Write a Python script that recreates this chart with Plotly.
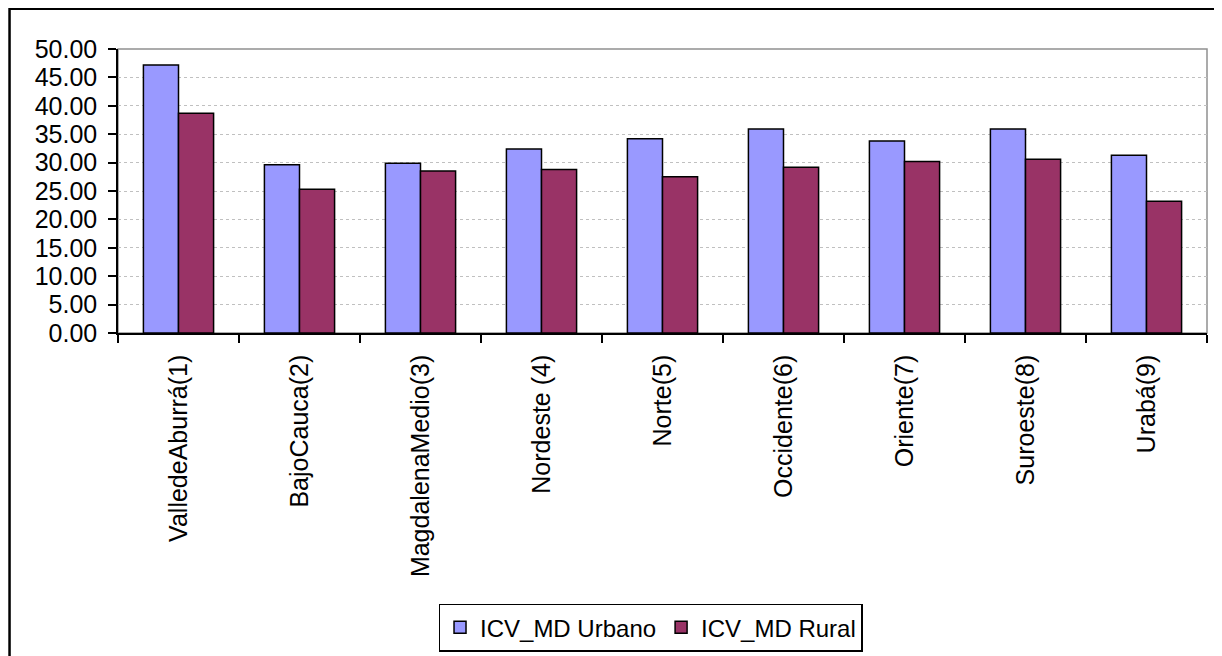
import plotly.graph_objects as go

regions = [
    "ValledeAburrá(1)",
    "BajoCauca(2)",
    "MagdalenaMedio(3)",
    "Nordeste (4)",
    "Norte(5)",
    "Occidente(6)",
    "Oriente(7)",
    "Suroeste(8)",
    "Urabá(9)",
]
urbano = [47.2, 29.6, 29.9, 32.4, 34.2, 35.9, 33.8, 35.9, 31.3]
rural = [38.7, 25.3, 28.5, 28.8, 27.5, 29.2, 30.2, 30.6, 23.2]

FONT = "Liberation Sans, Arial, sans-serif"

fig = go.Figure()
fig.add_trace(go.Bar(
    x=regions, y=urbano, name="ICV_MD Urbano",
    marker=dict(color="#9999ff", line=dict(color="black", width=1.5)),
))
fig.add_trace(go.Bar(
    x=regions, y=rural, name="ICV_MD Rural",
    marker=dict(color="#993366", line=dict(color="black", width=1.5)),
))

# outer chart frame (cut off at right and bottom) and grey plot-area border
fig.add_shape(type="rect", xref="paper", yref="paper",
              x0=-0.0996, x1=1.05, y0=-1.3, y1=1.142,
              line=dict(color="black", width=2.5), layer="below")
fig.add_shape(type="rect", xref="paper", yref="paper",
              x0=0, x1=1, y0=0, y1=1,
              line=dict(color="#909090", width=1.5), layer="below")

fig.update_layout(
    width=1222, height=656,
    margin=dict(l=110, r=23, t=41, b=331),
    paper_bgcolor="white", plot_bgcolor="white",
    barmode="group", bargap=0.42, bargroupgap=0,
    font=dict(family=FONT, size=25, color="black"),
    showlegend=True,
    legend=dict(
        orientation="h", x=0.489, xanchor="center", y=-0.953, yanchor="top",
        bordercolor="black", borderwidth=1.5, font=dict(size=24),
        itemwidth=30, tracegroupgap=0,
    ),
    xaxis=dict(
        type="category", tickangle=-90, tickson="boundaries",
        ticks="outside", ticklen=8, tickwidth=1.5, tickcolor="black",
        ticklabelstandoff=10,
        showline=True, linecolor="black", linewidth=1.5,
        showgrid=False, range=[-0.5, 8.5], automargin=False,
    ),
    yaxis=dict(
        range=[0, 50], dtick=5, tickformat=".2f",
        ticks="outside", ticklen=8, tickwidth=1.5, tickcolor="black",
        ticklabelstandoff=6,
        showline=True, linecolor="black", linewidth=1.5,
        showgrid=True, gridcolor="#c0c0c0", griddash="dot", gridwidth=1,
        zeroline=False, automargin=False,
    ),
)

fig.write_html("out.html")
